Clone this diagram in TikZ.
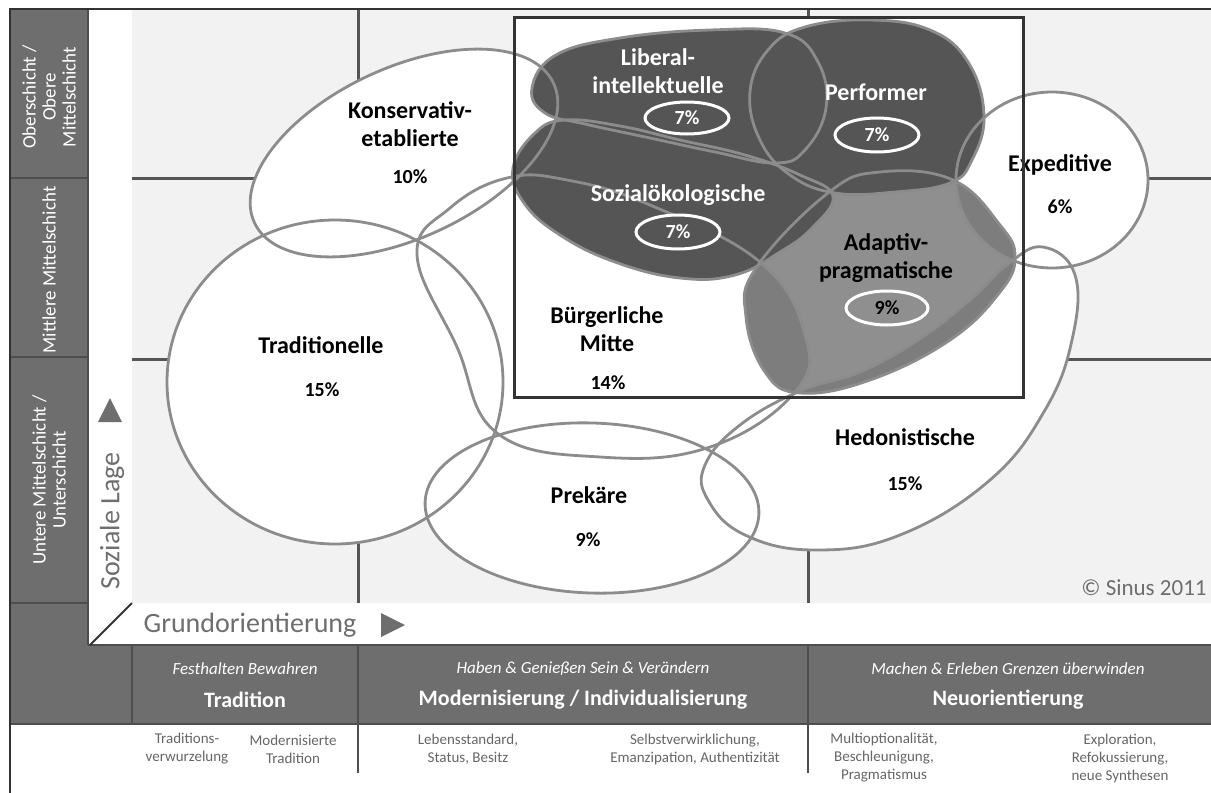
\documentclass[tikz,border=0pt]{standalone}
\usepackage{fontspec}
\setmainfont{Carlito}

\definecolor{barfill}{HTML}{6E6E6E}
\definecolor{barline}{HTML}{4E4E4E}
\definecolor{plotbg}{HTML}{F2F2F2}
\definecolor{ringgray}{HTML}{8C8C8C}
\definecolor{gridgray}{HTML}{555555}
\definecolor{blobdark}{HTML}{555555}
\definecolor{blobmid}{HTML}{8F8F8F}
\definecolor{blobshade}{HTML}{7D7D7D}
\definecolor{axisgray}{HTML}{6E6E6E}
\definecolor{notegray}{HTML}{666666}

\newcommand{\ringKons}{[rotate around={25:(404,153)}] (404,153) ellipse [x radius=165, y radius=85]}
\newcommand{\ringTrad}{(335,382) ellipse [x radius=168, y radius=162]}
\newcommand{\ringPrek}{[rotate around={-2:(592,508)}] (592,508) ellipse [x radius=167, y radius=85]}
\newcommand{\ringExped}{(1052,180) ellipse [x radius=96, y radius=88]}
\newcommand{\pathBuerg}{plot[smooth cycle, tension=0.7] coordinates {(417,255) (450,208) (507,178) (567,180) (650,205) (760,262) (805,335) (795,392) (710,447) (600,457) (497,433) (457,347)}}
\newcommand{\pathHedon}{plot[smooth cycle, tension=0.7] coordinates {(800,391) (860,372) (918,340) (970,300) (1008,264) (1043,247) (1075,275) (1072,340) (1045,410) (990,480) (900,535) (815,550) (745,535) (708,500) (705,465) (740,425)}}
\newcommand{\pathAdapt}{plot[smooth cycle, tension=0.7] coordinates {(828,193) (880,172) (953,180) (1000,225) (1015,257) (1000,292) (950,340) (870,380) (800,393) (765,372) (746,317) (756,268)}}
\newcommand{\pathSozial}{plot[smooth cycle, tension=0.7] coordinates {(513,168) (535,133) (565,120) (620,126) (680,140) (745,155) (800,175) (833,196) (812,228) (780,252) (735,275) (680,278) (615,262) (560,235) (524,203)}}
\newcommand{\pathLiberal}{plot[smooth cycle, tension=0.7] coordinates {(532,88) (556,55) (620,38) (710,30) (785,33) (818,62) (826,108) (805,150) (775,163) (715,152) (650,138) (585,124) (545,113)}}
\newcommand{\pathPerf}{plot[smooth cycle, tension=0.7] coordinates {(750,92) (768,50) (805,27) (870,20) (930,30) (968,62) (984,115) (972,160) (950,183) (895,192) (835,193) (790,175) (760,140)}}

\tikzset{
  sep/.style={draw=barline, line width=1.2pt},
  grid/.style={draw=gridgray, line width=1.5pt},
  ring/.style={draw=ringgray, line width=1.4pt},
  pctring/.style={draw=white, line width=1.5pt},
  milieu/.style={font=\fontsize{12}{14}\selectfont\bfseries, align=center, inner sep=0pt},
  share/.style={font=\fontsize{10}{12}\selectfont\bfseries, inner sep=0pt},
  sidelabel/.style={rotate=90, text=white, align=center, inner sep=0pt, font=\fontsize{9.5}{10}\selectfont},
  axislabel/.style={text=axisgray, inner sep=0pt, font=\fontsize{14}{16}\selectfont},
  barhint/.style={text=white, inner sep=0pt, font=\fontsize{8.5}{10}\selectfont\itshape},
  barhead/.style={text=white, inner sep=0pt, font=\fontsize{11}{13}\selectfont\bfseries},
  note/.style={text=notegray, align=center, inner sep=0pt, font=\fontsize{7.5}{9}\selectfont},
}

\begin{document}
\begin{tikzpicture}[x=0.5pt, y=-0.5pt]
\useasboundingbox (0,0) rectangle (1211,793);
\fill[white] (0,0) rectangle (1211,793);

\fill[plotbg] (132,10) rectangle (1211,603);
\fill[barfill] (10,10) rectangle (88,724);
\fill[barfill] (88,645) rectangle (1211,724);
\draw[sep] (10,178) -- (88,178);
\draw[sep] (10,357) -- (88,357);
\draw[sep] (10,603) -- (88,603);
\draw[sep] (88,10) -- (88,645);
\draw[sep] (88,645) -- (1211,645);
\draw[sep] (10,724) -- (1211,724);
\draw[sep] (132,645) -- (132,724);
\draw[sep] (358,645) -- (358,773);
\draw[sep] (808,645) -- (808,773);
\draw[black!80, line width=1pt] (1211,9) -- (10,9) -- (10,793);

\draw[grid] (358,10) -- (358,603);
\draw[grid] (808,10) -- (808,603);
\draw[grid] (132,178) -- (1211,178);
\draw[grid] (132,359) -- (1211,359);

\fill[white] (514,17) rectangle (1023,397);

\fill[white] \ringKons;
\fill[white] \ringTrad;
\fill[white] \ringPrek;
\fill[white] \pathBuerg;
\fill[white] \pathHedon;
\fill[white] \ringExped;

\fill[blobmid] \pathAdapt;
\begin{scope}
  \clip \pathAdapt;
  \fill[blobshade] \pathBuerg;
  \fill[blobshade] \ringExped;
  \fill[blobshade] \pathHedon;
\end{scope}
\fill[blobdark] \pathSozial;
\fill[blobdark] \pathLiberal;
\fill[blobdark] \pathPerf;

\draw[ring] \ringKons;
\draw[ring] \ringTrad;
\draw[ring] \ringPrek;
\draw[ring] \pathBuerg;
\draw[ring] \pathHedon;
\draw[ring] \ringExped;
\draw[ring] \pathAdapt;
\draw[ring] \pathSozial;
\draw[ring] \pathLiberal;
\draw[ring] \pathPerf;

\draw[pctring, fill=blobdark] (687,118) ellipse [x radius=42, y radius=16];
\draw[pctring, fill=blobdark] (877,135) ellipse [x radius=42, y radius=17];
\draw[pctring, fill=blobdark] (678,232) ellipse [x radius=42, y radius=17];
\draw[pctring, fill=blobmid] (887,308) ellipse [x radius=41, y radius=17];

\node[milieu] (kons) at (410,124) {Konservativ-\\etablierte};
\node[share] (konsP) at (410,177) {10\%};
\node[milieu] (trad) at (321,345) {Traditionelle};
\node[share] (tradP) at (322,390) {15\%};
\node[milieu] (buerg) at (607,329) {Bürgerliche\\Mitte};
\node[share] (buergP) at (608,383) {14\%};
\node[milieu] (prek) at (589,495) {Prekäre};
\node[share] (prekP) at (588,540) {9\%};
\node[milieu] (hedon) at (905,437) {Hedonistische};
\node[share] (hedonP) at (905,484) {15\%};
\node[milieu] (exped) at (1060,165) {Expeditive};
\node[share] (expedP) at (1060,207) {6\%};
\node[milieu, text=white] (liberal) at (658,71) {Liberal-\\intellektuelle};
\node[share, text=white] (liberalP) at (687,118) {7\%};
\node[milieu, text=white] (perf) at (876,92) {Performer};
\node[share, text=white] (perfP) at (877,135) {7\%};
\node[milieu, text=white] (sozial) at (678,195) {Sozialökologische};
\node[share, text=white] (sozialP) at (678,232) {7\%};
\node[milieu] (adapt) at (886,258) {Adaptiv-\\pragmatische};
\node[share] (adaptP) at (887,308) {9\%};

\draw[black!80, line width=1.5pt] (514,17) rectangle (1023,397);

\node[axislabel, font=\fontsize{11.5}{13}\selectfont] (sinus) at (1144,588) {\textcopyright{} Sinus 2011};

\node[sidelabel] (upper) at (49,97) {Oberschicht /\\Obere\\Mittelschicht};
\node[sidelabel] (middle) at (49,270) {Mittlere Mittelschicht};
\node[sidelabel] (lower) at (49,480) {Untere Mittelschicht /\\Unterschicht};

\fill[white] (89,603) rectangle (132,644);
\node[axislabel, rotate=90] (lage) at (112,521) {Soziale Lage};
\fill[axisgray] (98,422) -- (122,422) -- (110,398) -- cycle;
\node[axislabel] (orient) at (250,625) {Grundorientierung};
\fill[axisgray] (381,613) -- (381,637) -- (405,625) -- cycle;
\draw[black!80, line width=1pt] (90,645) -- (132,603);

\node[barhint] (hintT) at (245,669) {Festhalten Bewahren};
\node[barhead] (headT) at (245,700) {Tradition};
\node[barhint] (hintM) at (583,669) {Haben \& Genießen Sein \& Verändern};
\node[barhead] (headM) at (583,700) {Modernisierung / Individualisierung};
\node[barhint] (hintN) at (1008,669) {Machen \& Erleben Grenzen überwinden};
\node[barhead] (headN) at (1008,700) {Neuorientierung};

\node[note] (noteA) at (187,749) {Traditions-\\verwurzelung};
\node[note] (noteB) at (293,749) {Modernisierte\\Tradition};
\node[note] (noteC) at (468,749) {Lebensstandard,\\Status, Besitz};
\node[note] (noteD) at (695,749) {Selbstverwirklichung,\\Emanzipation, Authentizität};
\node[note] (noteE) at (884,758) {Multioptionalität,\\Beschleunigung,\\Pragmatismus};
\node[note] (noteF) at (1120,758) {Exploration,\\Refokussierung,\\neue Synthesen};
\end{tikzpicture}
\end{document}
